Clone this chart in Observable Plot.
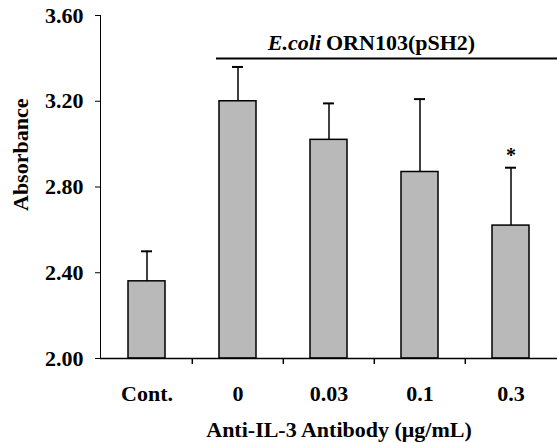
<!DOCTYPE html>
<html>
<head>
<meta charset="utf-8">
<script src="https://cdn.jsdelivr.net/npm/d3@7"></script>
<script src="https://cdn.jsdelivr.net/npm/@observablehq/plot@0.6"></script>
<style>
  html, body { margin: 0; padding: 0; background: #fff; }
</style>
</head>
<body>
<div id="chart"></div>
<script>
const categories = ["Cont.", "0", "0.03", "0.1", "0.3"];
const means = [2.36, 3.20, 3.02, 2.87, 2.62];
const upperErr = [2.50, 3.36, 3.19, 3.21, 2.89];
const yTicks = [2.00, 2.40, 2.80, 3.20, 3.60];
const bracketLevel = 3.40;
const bracketStart = "0";
const bracketEnd = "0.3";
const bracketLabelAt = "0.03";
const significant = ["0.3"];
const yBase = 2.0;
const tickEnd = 1.972;

const data = categories.map((c, i) => ({cat: c, v: means[i], hi: upperErr[i]}));
const boundaries = categories.slice(1);

const W = 557, H = 443;
const mL = 100, mR = 0, mT = 15, mB = 85;
const step = (W - mL - mR) / categories.length;

const font = "Liberation Serif, Times New Roman, serif";

const plot = Plot.plot({
  width: W,
  height: H,
  marginLeft: mL,
  marginRight: mR,
  marginTop: mT,
  marginBottom: mB,
  style: {fontFamily: font, fontWeight: "bold", fontSize: "22px", color: "#000", background: "#fff"},
  x: {domain: categories, paddingInner: 0.59, paddingOuter: 0.295, tickSize: 0, tickPadding: 27, label: null},
  y: {domain: [2.0, 3.6], ticks: yTicks, tickFormat: d => d.toFixed(2), tickSize: 5, tickPadding: 12, label: null, line: true},
  marks: [
    Plot.barY(data, {x: "cat", y1: yBase, y2: "v", fill: "#b9b9b9", stroke: "#000", strokeWidth: 1.5}),
    Plot.ruleX(data, {x: "cat", y1: "v", y2: "hi", stroke: "#000", strokeWidth: 1.5}),
    Plot.tickY(data, {x: "cat", y: "hi", insetLeft: 13, insetRight: 13, stroke: "#000", strokeWidth: 2}),
    Plot.ruleY([yBase], {stroke: "#000", strokeWidth: 1.5}),
    Plot.ruleX(boundaries, {x: d => d, y1: yBase, y2: tickEnd, dx: -step / 2, stroke: "#000", strokeWidth: 1.5}),
    Plot.ruleY([bracketLevel], {x1: [bracketStart], x2: [bracketEnd], y: d => d, insetLeft: -3, insetRight: -32, stroke: "#000", strokeWidth: 2}),
    Plot.text([bracketLevel], {x: [bracketLabelAt], y: d => d, text: ["E.coli"], textAnchor: "end", lineAnchor: "bottom", dx: -8, dy: -8, fontStyle: "italic", fontWeight: "bold", fontSize: 22}),
    Plot.text([bracketLevel], {x: [bracketLabelAt], y: d => d, text: ["ORN103(pSH2)"], textAnchor: "start", lineAnchor: "bottom", dx: -3, dy: -8, fontWeight: "bold", fontSize: 22}),
    Plot.text(data.filter(d => significant.includes(d.cat)), {x: "cat", y: "hi", text: () => "*", lineAnchor: "bottom", dy: -6, fontSize: 20}),
    Plot.text(["Anti-IL-3 Antibody (μg/mL)"], {frameAnchor: "bottom", text: d => d, lineAnchor: "middle", dy: 71, dx: 10, fontSize: 22}),
    Plot.text(["Absorbance"], {frameAnchor: "left", text: d => d, rotate: -90, lineAnchor: "middle", dx: -80, dy: 24, fontSize: 22})
  ]
});
document.getElementById("chart").appendChild(plot);
</script>
</body>
</html>
